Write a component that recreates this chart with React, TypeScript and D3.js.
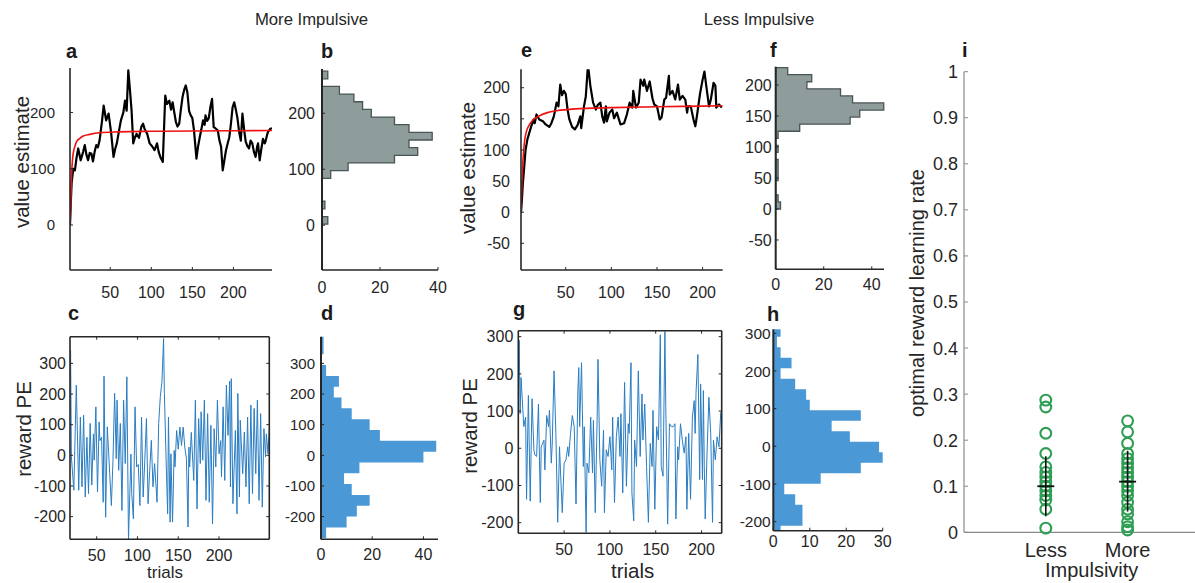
import React from 'react';
import * as d3 from 'd3';

const FONT = '"Liberation Sans", Arial, Helvetica, sans-serif';
const TXT = '#262626';

type Pt = [number, number];

// ---------- Panel a (More impulsive, value estimate) ----------
const valueMore: Pt[] = [[1,0],[2,40],[3,75],[5,100],[7,97],[9,120],[11,136],[14,115],[17,130],[19,142],[21,125],[23,115],[25,128],[27,127],[29,113],[31,130],[33,142],[35,138],[37,150],[40,185],[42,212],[45,186],[48,198],[51,165],[54,121],[56,135],[58,145],[61,170],[63,186],[66,200],[68,221],[70,203],[72,275],[74,240],[76,203],[78,145],[80,155],[82,162],[85,155],[88,175],[90,180],[92,170],[95,162],[98,145],[101,140],[104,133],[107,145],[109,130],[111,121],[114,112],[117,230],[119,215],[122,221],[124,205],[126,218],[128,200],[130,183],[132,175],[134,180],[136,205],[138,227],[140,240],[142,248],[144,235],[146,203],[148,195],[150,190],[152,168],[155,118],[157,140],[159,156],[161,170],[163,186],[165,178],[166,195],[168,185],[170,190],[172,210],[174,224],[176,174],[178,172],[181,168],[183,150],[185,139],[187,97],[189,115],[191,133],[193,145],[195,156],[197,180],[199,209],[201,218],[203,205],[205,189],[207,165],[209,150],[211,198],[213,170],[215,148],[217,140],[219,136],[221,150],[223,145],[225,130],[227,121],[229,140],[230,145],[232,115],[234,135],[236,153],[238,145],[239,148],[241,160],[242,165],[245,171],[247,172]];
const optimalMore: Pt[] = [[1,0],[2,40],[3,91],[4,115],[5,128],[7,140],[9,148],[13,154],[17,158],[25,161],[37,164],[60,165.5],[100,166.5],[150,167],[200,167.5],[247,168]];

// ---------- Panel b histogram ----------
const histBEdges = [1.8,15.5,29.1,42.8,56.5,70.2,83.8,97.5,111.2,124.8,138.5,152.2,165.8,179.5,193.2,206.9,220.5,234.2,247.9,261.5,275.2];
const histBCounts = [2,0,1,0,0,0,3,9,25,33,30,38,30,25,17,14,11,6,0,2];

// ---------- Panel c (reward PE, more impulsive) ----------
const peMore: Pt[] = [[18,343],[19,-5],[22,-114],[25,229],[28,-114],[30,125],[32,-103],[34,131],[36,-136],[38,59],[40,-125],[42,104],[44,-97],[46,70],[47,-16],[49,158],[51,-120],[53,109],[54,48],[56,59],[58,-153],[59,258],[61,-202],[63,93],[66,-60],[68,-164],[70,-16],[72,202],[74,-11],[75,180],[77,-49],[79,104],[81,-180],[83,180],[85,-27],[87,256],[89,-276],[92,4],[93,-125],[95,-207],[97,158],[99,-38],[101,-30],[103,-164],[105,125],[107,-136],[109,-16],[111,120],[113,-158],[115,-49],[117,49],[119,-103],[121,-27],[124,-153],[126,104],[128,191],[130,240],[132,381],[133,202],[135,-5],[137,-191],[138,125],[140,-218],[141,5],[143,-218],[145,16],[146,-38],[148,81],[150,20],[152,92],[154,32],[156,92],[158,27],[160,-10],[162,-234],[163,27],[164,-38],[166,75],[169,-82],[171,180],[173,-175],[175,120],[177,-27],[178,142],[180,-16],[182,180],[184,-147],[186,136],[188,-153],[190,98],[192,-224],[194,87],[196,-38],[198,180],[200,5],[202,48],[203,-70],[205,158],[207,-82],[209,229],[211,65],[213,242],[214,-103],[215,250],[217,-158],[220,81],[222,-191],[223,202],[225,-136],[226,114],[229,-60],[231,76],[233,-103],[235,125],[237,-158],[239,164],[241,-125],[243,153],[245,-60],[247,180],[249,-147],[251,136],[253,-169],[255,87],[257,-5],[258,70],[260,5],[262,104]];

// ---------- Panel d histogram ----------
const histDEdges = [-270.4,-235.1,-199.8,-164.5,-129.2,-93.9,-58.6,-23.3,12.0,47.3,82.6,117.9,153.2,188.5,223.8,259.1,294.4,329.7,365.0,400.3];
const histDCounts = [2,10,14,19,12,9,15,40,45,23,19,12,8,5,7,2,0,1,1];

// ---------- Panel e (Less impulsive, value estimate) ----------
const valueLess: Pt[] = [[1,0],[2,20],[3,45],[4,63],[6,100],[8,117],[10,127],[12,137],[15,149],[16,143],[18,157],[21,149],[25,146],[28,141],[32,137],[34,142],[37,154],[40,176],[42,170],[44,205],[46,188],[48,195],[50,190],[52,165],[54,149],[57,137],[60,133],[63,140],[66,154],[67,135],[70,170],[72,186],[74,229],[75,229],[77,203],[80,176],[83,165],[85,172],[88,176],[90,154],[92,144],[94,170],[95,146],[98,160],[101,165],[103,151],[106,160],[110,141],[114,143],[117,157],[120,176],[123,168],[124,195],[127,168],[130,176],[132,213],[135,203],[136,213],[139,195],[142,210],[145,183],[147,173],[150,170],[153,149],[155,152],[158,181],[160,184],[163,219],[164,189],[167,195],[170,181],[173,205],[175,181],[178,187],[181,181],[183,160],[184,170],[187,170],[190,149],[192,138],[194,157],[197,189],[200,213],[202,226],[204,203],[207,170],[209,181],[212,208],[214,203],[215,168],[218,173],[221,168]];
const optimalLess: Pt[] = [[1,0],[2,45],[3,80],[4,100],[5,115],[7,130],[10,140],[14,148],[20,154],[30,160],[40,163],[60,166],[100,168],[150,169.5],[200,170.5],[222,171]];

// ---------- Panel f histogram ----------
const histFEdges = [0,11.4,22.8,34.2,45.6,57,68.4,79.8,91.2,102.6,114,125.4,136.8,148.2,159.6,171,182.4,193.8,205.2,216.6,228];
const histFCounts = [2,1,0,0,1,1,1,0,1,0,1,10,31,35,45,32,27,13,15,5];

// ---------- Panel g (reward PE, less impulsive) ----------
const peLess: Pt[] = [[0,200],[1,290],[2,93],[3,190],[5,102],[6,58],[8,84],[9,-137],[11,142],[13,-142],[15,133],[17,-4],[18,-18],[20,-22],[22,119],[24,-146],[25,4],[28,22],[29,-58],[31,88],[33,58],[34,102],[36,-40],[37,9],[39,208],[41,40],[43,-199],[45,4],[46,-58],[48,-173],[50,-40],[52,-31],[54,4],[55,-22],[57,40],[59,88],[61,58],[63,-150],[65,155],[66,217],[67,58],[69,230],[71,-49],[72,58],[74,-226],[75,-40],[77,-66],[79,84],[81,-66],[82,75],[84,-173],[86,75],[87,239],[89,-31],[91,-102],[93,49],[94,-173],[96,-4],[98,-22],[100,31],[102,-58],[103,84],[105,-146],[107,31],[109,84],[111,-22],[112,93],[114,-120],[116,177],[118,-102],[120,66],[121,40],[123,230],[124,-120],[126,-195],[127,22],[129,-49],[131,208],[133,-22],[135,146],[136,22],[138,119],[140,-49],[142,-199],[144,13],[146,-49],[147,102],[149,-164],[151,58],[153,22],[155,305],[156,-49],[158,-75],[160,314],[161,110],[163,-204],[165,66],[167,58],[169,58],[171,66],[172,-190],[174,4],[175,-31],[177,66],[179,22],[181,-13],[183,31],[184,-164],[186,40],[188,-137],[190,84],[192,128],[193,40],[194,150],[196,252],[198,-84],[199,173],[201,-84],[202,155],[203,-49],[204,-190],[206,-13],[208,137],[210,40],[212,-199],[213,22],[215,-31],[217,31],[219,4],[221,97]];

// ---------- Panel h histogram ----------
const histHEdges = [-238.7,-210.9,-183.0,-155.2,-127.3,-99.5,-71.6,-43.8,-15.9,12.0,39.8,67.7,95.5,123.4,151.2,179.1,206.9,234.8,262.6,290.5,318.3];
const histHCounts = [2,8,8,6,3,13,24,30,29,21,16,24,10,9,6,2,5,2,1,2];

// ---------- Panel i ----------
const groups = ['Less', 'More'];
const rateLess = [0.287,0.272,0.215,0.171,0.142,0.13,0.12,0.11,0.10,0.09,0.08,0.07,0.05,0.009];
const rateMore = [0.242,0.218,0.193,0.171,0.16,0.15,0.14,0.13,0.12,0.11,0.10,0.09,0.08,0.065,0.05,0.04,0.023,0.012,0.005];
const groupMeans = [0.10, 0.11];
const groupLow = [0.035, 0.045];
const groupHigh = [0.165, 0.177];
const rateTicks = [0,0.1,0.2,0.3,0.4,0.5,0.6,0.7,0.8,0.9,1];

// tick arrays
const trialTicks = [50,100,150,200];
const valueTicksMore = [0,100,200];
const valueTicksLess = [-50,0,50,100,150,200];
const peTicksMore = [-200,-100,0,100,200,300];
const peTicksLess = [-200,-100,0,100,200,300];
const countTicks40 = [0,20,40];
const countTicks30 = [0,10,20,30];

const AX = '#262626';

function fmt(v: number) {
  return v < 0 ? '-' + Math.abs(v) : String(v);
}

type Series = { data: Pt[]; color: string; width: number; smooth?: boolean };

function LinePanel(p: any) {
  const x = d3.scaleLinear().domain(p.xDomain).range([p.left, p.right]);
  const y = d3.scaleLinear().domain(p.yDomain).range([p.bottom, p.top]);
  const clipId = 'clip-' + p.id;
  return (
    <g>
      <defs>
        <clipPath id={clipId}>
          <rect x={p.left} y={p.top} width={p.right - p.left} height={p.bottom - p.top} />
        </clipPath>
      </defs>
      <g clipPath={`url(#${clipId})`}>
        {p.series.map((s: Series, i: number) => {
          const line = d3.line<Pt>().x(d => x(d[0])).y(d => y(d[1])).curve(s.smooth ? d3.curveMonotoneX : d3.curveLinear);
          return <path key={i} d={line(s.data) || ''} fill="none" stroke={s.color} strokeWidth={s.width} strokeLinejoin="round" />;
        })}
      </g>
      <line x1={p.left} x2={p.left} y1={p.top} y2={p.bottom} stroke={AX} strokeWidth={1.6} />
      <line x1={p.left} x2={p.right} y1={p.bottom} y2={p.bottom} stroke={AX} strokeWidth={1.6} />
      {p.box && <line x1={p.left} x2={p.right} y1={p.top} y2={p.top} stroke={AX} strokeWidth={1.6} />}
      {p.box && <line x1={p.right} x2={p.right} y1={p.top} y2={p.bottom} stroke={AX} strokeWidth={1.6} />}
      {p.xTicks.map((t: number) => (
        <g key={'x' + t}>
          <line x1={x(t)} x2={x(t)} y1={p.bottom} y2={p.bottom - 3} stroke={AX} strokeWidth={1} />
          {p.box && <line x1={x(t)} x2={x(t)} y1={p.top} y2={p.top + 3} stroke={AX} strokeWidth={1} />}
          <text x={x(t)} y={p.xLabelY} textAnchor="middle" fontSize={p.xfs} fill={TXT}>{fmt(t)}</text>
        </g>
      ))}
      {p.yTicks.map((t: number) => (
        <g key={'y' + t}>
          <line x1={p.left} x2={p.left + 3} y1={y(t)} y2={y(t)} stroke={AX} strokeWidth={1} />
          {p.box && <line x1={p.right} x2={p.right - 3} y1={y(t)} y2={y(t)} stroke={AX} strokeWidth={1} />}
          <text x={p.yLabelX} y={y(t)} dy="0.36em" textAnchor="end" fontSize={p.yfs} fill={TXT}>{fmt(t)}</text>
        </g>
      ))}
    </g>
  );
}

function HistPanel(p: any) {
  const x = d3.scaleLinear().domain(p.xDomain).range([p.left, p.right]);
  const y = d3.scaleLinear().domain(p.yDomain).range([p.bottom, p.top]).clamp(true);
  const edges: number[] = p.edges;
  const counts: number[] = p.counts;
  const pts: Pt[] = [[0, edges[0]]];
  counts.forEach((c, i) => {
    pts.push([c, edges[i]]);
    pts.push([c, edges[i + 1]]);
  });
  pts.push([0, edges[edges.length - 1]]);
  const line = d3.line<Pt>().x(d => x(d[0])).y(d => y(d[1]));
  return (
    <g>
      <path d={(line(pts) || '') + 'Z'} fill={p.fill} stroke={p.stroke || 'none'} strokeWidth={p.stroke ? 1.3 : 0} strokeLinejoin="miter" />
      <line x1={p.left} x2={p.left} y1={p.top} y2={p.bottom} stroke={AX} strokeWidth={2} />
      <line x1={p.left} x2={p.right} y1={p.bottom} y2={p.bottom} stroke={AX} strokeWidth={1.6} />
      {p.xTicks.map((t: number) => (
        <g key={'x' + t}>
          <line x1={x(t)} x2={x(t)} y1={p.bottom} y2={p.bottom - 3} stroke={AX} strokeWidth={1} />
          <text x={x(t)} y={p.xLabelY} textAnchor="middle" fontSize={p.xfs} fill={TXT}>{fmt(t)}</text>
        </g>
      ))}
      {p.yTicks.map((t: number) => (
        <g key={'y' + t}>
          <line x1={p.left} x2={p.left + 3} y1={y(t)} y2={y(t)} stroke={AX} strokeWidth={1} />
          <text x={p.yLabelX} y={y(t)} dy="0.36em" textAnchor="end" fontSize={p.yfs} fill={TXT}>{fmt(t)}</text>
        </g>
      ))}
    </g>
  );
}

function ScatterPanel() {
  const x = d3.scaleLinear().domain([0, 3]).range([964, 1209.4]);
  const y = d3.scaleLinear().domain([0, 1]).range([532.3, 71.7]);
  const green = '#2f9e55';
  const cols = [rateLess, rateMore];
  return (
    <g>
      <line x1={964} x2={964} y1={y(1)} y2={y(0)} stroke="#8a8a8a" strokeWidth={1.2} />
      <line x1={964} x2={1195} y1={y(0)} y2={y(0)} stroke="#8a8a8a" strokeWidth={1.2} />
      {rateTicks.map(t => (
        <g key={t}>
          <line x1={964} x2={968} y1={y(t)} y2={y(t)} stroke="#8a8a8a" strokeWidth={1} />
          <text x={958} y={y(t)} dy="0.36em" textAnchor="end" fontSize={18} fill={TXT}>{String(t)}</text>
        </g>
      ))}
      {cols.map((vals, gi) => vals.map((v, i) => (
        <circle key={gi + '-' + i} cx={x(gi + 1)} cy={y(v)} r={5.4} fill="none" stroke={green} strokeWidth={2.1} />
      )))}
      {groups.map((g, gi) => (
        <g key={g}>
          <line x1={x(gi + 1)} x2={x(gi + 1)} y1={y(groupLow[gi])} y2={y(groupHigh[gi])} stroke="#111" strokeWidth={1.6} />
          <line x1={x(gi + 1) - 8.5} x2={x(gi + 1) + 8.5} y1={y(groupMeans[gi])} y2={y(groupMeans[gi])} stroke="#111" strokeWidth={1.8} />
          <text x={x(gi + 1)} y={556.5} textAnchor="middle" fontSize={20} fill={TXT}>{g}</text>
        </g>
      ))}
      <text x={1091.7} y={577} textAnchor="middle" fontSize={20} fill={TXT}>Impulsivity</text>
      <text transform="translate(924,293) rotate(-90)" textAnchor="middle" fontSize={20} fill={TXT}>optimal reward learning rate</text>
    </g>
  );
}

function PanelLetter({ x, y, t }: { x: number; y: number; t: string }) {
  return <text x={x} y={y} fontSize={20} fontWeight="bold" fill="#1a1a1a">{t}</text>;
}

export default function App() {
  const blueLine = '#2a7dc2';
  const blueFill = '#4a98d6';
  return (
    <svg width={1195} height={583} style={{ position: 'absolute', left: 0, top: 0, background: '#fff' }} fontFamily={FONT}>
      <rect x={0} y={0} width={1195} height={583} fill="#fff" />
      <text x={311.5} y={25} textAnchor="middle" fontSize={16.7} fill={TXT}>More Impulsive</text>
      <text x={759} y={25} textAnchor="middle" fontSize={16.7} fill={TXT}>Less Impulsive</text>

      <LinePanel id="a" left={70} right={272} top={68} bottom={270} xDomain={[1, 247]} yDomain={[-80, 279]}
        xTicks={trialTicks} yTicks={valueTicksMore} xLabelY={298} yLabelX={55} xfs={16} yfs={15}
        series={[{ data: valueMore, color: '#000', width: 2.2 }, { data: optimalMore, color: '#ee1111', width: 1.6, smooth: true }]} />
      <HistPanel left={322} right={438} top={69} bottom={270} xDomain={[0, 40]} yDomain={[-80, 279]}
        edges={histBEdges} counts={histBCounts} fill="#8e9c9c" stroke="#4a5555"
        xTicks={countTicks40} yTicks={valueTicksMore} xLabelY={293} yLabelX={315} xfs={16} yfs={16} />

      <LinePanel id="c" box left={70} right={269.3} top={336.7} bottom={539.3} xDomain={[17.3, 261.6]} yDomain={[-274, 387]}
        xTicks={trialTicks} yTicks={peTicksMore} xLabelY={561} yLabelX={66} xfs={16} yfs={16}
        series={[{ data: peMore, color: blueLine, width: 1 }]} />
      <HistPanel left={321} right={438} top={336.7} bottom={539.3} xDomain={[0, 45.7]} yDomain={[-274, 387]}
        edges={histDEdges} counts={histDCounts} fill={blueFill}
        xTicks={countTicks40} yTicks={peTicksMore} xLabelY={560} yLabelX={315} xfs={16} yfs={15} />

      <LinePanel id="e" left={521} right={722.7} top={69.3} bottom={270} xDomain={[1, 222]} yDomain={[-92.9, 229.6]}
        xTicks={trialTicks} yTicks={valueTicksLess} xLabelY={298} yLabelX={510} xfs={16} yfs={16}
        series={[{ data: valueLess, color: '#000', width: 2.2 }, { data: optimalLess, color: '#ee1111', width: 1.6, smooth: true }]} />
      <HistPanel left={775.7} right={884} top={66.7} bottom={269.3} xDomain={[0, 45.1]} yDomain={[-97.3, 229.5]}
        edges={histFEdges} counts={histFCounts} fill="#8e9c9c" stroke="#4a5555"
        xTicks={countTicks40} yTicks={valueTicksLess} xLabelY={290} yLabelX={771.7} xfs={16} yfs={16} />

      <LinePanel id="g" box left={518.3} right={721.7} top={330.7} bottom={533.3} xDomain={[0, 222]} yDomain={[-228.5, 316]}
        xTicks={trialTicks} yTicks={peTicksLess} xLabelY={555} yLabelX={513.3} xfs={16} yfs={16}
        series={[{ data: peLess, color: blueLine, width: 1 }]} />
      <HistPanel left={773.3} right={882.7} top={329.3} bottom={530.7} xDomain={[0, 30]} yDomain={[-224, 310.5]}
        edges={histHEdges} counts={histHCounts} fill={blueFill}
        xTicks={countTicks30} yTicks={peTicksLess} xLabelY={546.7} yLabelX={770.7} xfs={16} yfs={15.5} />

      <ScatterPanel />

      <text transform="translate(29,162) rotate(-90)" textAnchor="middle" fontSize={20.5} fill={TXT}>value estimate</text>
      <text transform="translate(475,168) rotate(-90)" textAnchor="middle" fontSize={20.5} fill={TXT}>value estimate</text>
      <text transform="translate(31,429) rotate(-90)" textAnchor="middle" fontSize={20.5} fill={TXT}>reward PE</text>
      <text transform="translate(477,426) rotate(-90)" textAnchor="middle" fontSize={20.5} fill={TXT}>reward PE</text>
      <text x={165} y={578} textAnchor="middle" fontSize={17} fill={TXT}>trials</text>
      <text x={632.7} y={578} textAnchor="middle" fontSize={20.5} fill={TXT}>trials</text>

      <PanelLetter x={66} y={58} t="a" />
      <PanelLetter x={321} y={58} t="b" />
      <PanelLetter x={68} y={320} t="c" />
      <PanelLetter x={321} y={320} t="d" />
      <PanelLetter x={521} y={57} t="e" />
      <PanelLetter x={770} y={57} t="f" />
      <PanelLetter x={513} y={316} t="g" />
      <PanelLetter x={767} y={321} t="h" />
      <PanelLetter x={962} y={57} t="i" />
    </svg>
  );
}
